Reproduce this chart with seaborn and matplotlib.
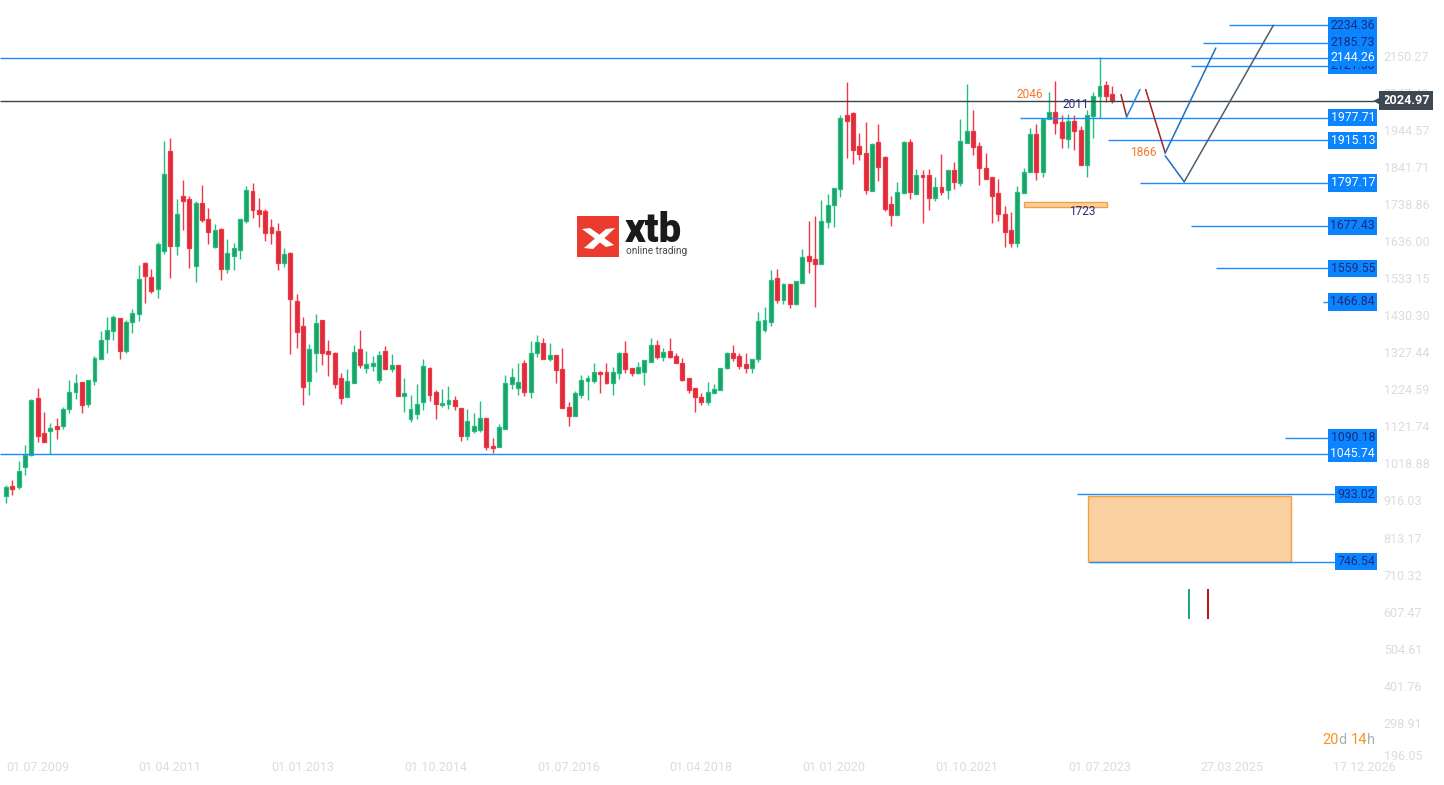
import matplotlib
matplotlib.use("Agg")
import matplotlib.pyplot as plt
import matplotlib.transforms as mtransforms
from matplotlib.patches import Rectangle, Polygon
import numpy as np
import pandas as pd
import seaborn as sns

# ---------------- data (monthly candles, Jul 2009 .. Feb 2024) ----------------
opens = [928, 956, 953, 1008, 1042, 1199, 1102, 1110, 1122, 1124, 1171, 1216, 1244, 1183, 1247, 1308,
         1363, 1385, 1421, 1332, 1410, 1432, 1574, 1535, 1502, 1609, 1885, 1623, 1762, 1751, 1567, 1741,
         1697, 1620, 1669, 1559, 1595, 1612, 1692, 1774, 1721, 1718, 1676, 1663, 1576, 1602, 1468, 1399,
         1248, 1326, 1416, 1330, 1324, 1255, 1204, 1243, 1335, 1284, 1289, 1249, 1331, 1282, 1291, 1207,
         1141, 1157, 1188, 1283, 1216, 1180, 1183, 1194, 1172, 1096, 1110, 1112, 1144, 1066, 1064, 1115,
         1238, 1229, 1297, 1216, 1324, 1352, 1308, 1319, 1280, 1174, 1149, 1210, 1247, 1247, 1272, 1272,
         1241, 1269, 1324, 1284, 1270, 1273, 1301, 1346, 1315, 1330, 1316, 1297, 1255, 1227, 1202, 1190,
         1215, 1222, 1283, 1324, 1316, 1294, 1283, 1308, 1390, 1412, 1532, 1471, 1516, 1462, 1518, 1593,
         1585, 1573, 1688, 1735, 1781, 1984, 1990, 1899, 1879, 1775, 1910, 1869, 1738, 1707, 1768, 1910,
         1767, 1819, 1819, 1754, 1785, 1776, 1832, 1798, 1907, 1942, 1899, 1838, 1812, 1768, 1712, 1665,
         1631, 1768, 1826, 1932, 1826, 1973, 1993, 1965, 1918, 1968, 1944, 1847, 1983, 2038, 2068, 2043]
highs = [959, 973, 1026, 1070, 1198, 1227, 1161, 1130, 1145, 1176, 1250, 1267, 1244, 1249, 1317, 1386,
         1425, 1431, 1421, 1418, 1447, 1569, 1577, 1557, 1632, 1913, 1921, 1752, 1805, 1762, 1748, 1791,
         1727, 1683, 1672, 1641, 1630, 1696, 1788, 1797, 1755, 1724, 1697, 1686, 1616, 1604, 1489, 1425,
         1350, 1433, 1416, 1361, 1329, 1269, 1281, 1347, 1389, 1331, 1317, 1331, 1345, 1322, 1291, 1256,
         1209, 1239, 1309, 1286, 1222, 1225, 1234, 1206, 1172, 1170, 1159, 1192, 1144, 1089, 1128, 1263,
         1283, 1297, 1305, 1358, 1375, 1367, 1353, 1319, 1339, 1188, 1220, 1263, 1263, 1296, 1275, 1296,
         1287, 1328, 1359, 1284, 1300, 1307, 1367, 1362, 1339, 1367, 1326, 1311, 1255, 1227, 1215, 1244,
         1238, 1284, 1328, 1346, 1324, 1324, 1308, 1440, 1454, 1555, 1558, 1519, 1516, 1524, 1614, 1691,
         1705, 1750, 1767, 1783, 1985, 2077, 1995, 1935, 1966, 1908, 1960, 1872, 1761, 1799, 1913, 1919,
         1835, 1833, 1835, 1814, 1877, 1832, 1854, 1974, 2071, 1999, 1910, 1880, 1812, 1807, 1734, 1716,
         1788, 1837, 1948, 1960, 1974, 2049, 2080, 1984, 1987, 1984, 1955, 1999, 2050, 2145, 2080, 2066]
lows = [908, 932, 949, 988, 1040, 1077, 1077, 1045, 1087, 1113, 1160, 1198, 1160, 1176, 1237, 1308,
        1326, 1361, 1309, 1326, 1381, 1415, 1465, 1492, 1479, 1600, 1534, 1597, 1667, 1562, 1522, 1689,
        1628, 1615, 1528, 1547, 1555, 1586, 1686, 1700, 1675, 1636, 1628, 1555, 1565, 1322, 1339, 1181,
        1209, 1273, 1292, 1261, 1229, 1184, 1204, 1243, 1284, 1271, 1276, 1243, 1282, 1273, 1207, 1162,
        1135, 1143, 1167, 1193, 1143, 1175, 1171, 1166, 1080, 1083, 1102, 1107, 1055, 1049, 1064, 1115,
        1226, 1210, 1207, 1201, 1313, 1308, 1302, 1243, 1172, 1124, 1149, 1199, 1196, 1241, 1214, 1238,
        1208, 1254, 1271, 1261, 1267, 1236, 1301, 1309, 1304, 1312, 1296, 1247, 1213, 1162, 1182, 1182,
        1215, 1222, 1280, 1303, 1280, 1269, 1269, 1299, 1384, 1400, 1463, 1462, 1449, 1457, 1518, 1548,
        1454, 1573, 1673, 1674, 1759, 1865, 1849, 1861, 1767, 1775, 1802, 1719, 1678, 1707, 1768, 1753,
        1767, 1687, 1723, 1748, 1763, 1753, 1780, 1789, 1907, 1875, 1790, 1807, 1685, 1692, 1618, 1620,
        1618, 1768, 1826, 1806, 1812, 1973, 1933, 1895, 1895, 1888, 1847, 1812, 1921, 1976, 2020, 2018]
closes = [954, 949, 997, 1042, 1194, 1095, 1079, 1118, 1113, 1169, 1216, 1241, 1180, 1249, 1310, 1360,
          1388, 1424, 1332, 1410, 1435, 1529, 1539, 1498, 1627, 1823, 1623, 1712, 1748, 1615, 1740, 1695,
          1662, 1666, 1559, 1602, 1615, 1696, 1776, 1721, 1712, 1659, 1659, 1576, 1599, 1476, 1384, 1232,
          1335, 1407, 1326, 1321, 1240, 1201, 1247, 1327, 1293, 1294, 1297, 1319, 1282, 1291, 1207, 1213,
          1169, 1185, 1288, 1210, 1183, 1186, 1194, 1179, 1094, 1137, 1122, 1145, 1064, 1061, 1119, 1241,
          1258, 1246, 1216, 1324, 1355, 1308, 1319, 1277, 1172, 1149, 1213, 1250, 1256, 1272, 1266, 1243,
          1272, 1325, 1280, 1269, 1286, 1307, 1346, 1314, 1327, 1315, 1296, 1251, 1222, 1204, 1190, 1218,
          1224, 1284, 1324, 1312, 1290, 1283, 1308, 1414, 1417, 1528, 1471, 1516, 1462, 1524, 1591, 1579,
          1571, 1691, 1736, 1783, 1976, 1970, 1889, 1878, 1777, 1905, 1842, 1725, 1707, 1771, 1910, 1771,
          1819, 1812, 1756, 1785, 1773, 1832, 1799, 1913, 1942, 1896, 1837, 1807, 1762, 1711, 1662, 1631,
          1771, 1826, 1932, 1826, 1974, 1993, 1962, 1921, 1968, 1940, 1847, 1985, 2039, 2065, 2039, 2025]

# x tick labels (one every 21 months)
xtick_idx = [0, 21, 42, 63, 84, 105, 126, 147, 168, 189, 210]
xtick_labels = ["01.07.2009", "01.04.2011", "01.01.2013", "01.10.2014", "01.07.2016", "01.04.2018",
                "01.01.2020", "01.10.2021", "01.07.2023", "27.03.2025", "17.12.2026"]
ytick_values = [196.05, 298.91, 401.76, 504.61, 607.47, 710.32, 813.17, 916.03, 1018.88, 1121.74,
                1224.59, 1327.44, 1430.30, 1533.15, 1636.00, 1738.86, 1841.71, 1944.57, 2047.42, 2150.27]

current_price = 2024.97
# horizontal levels: value, label, start (month index), white text?
level_values = [2122.0, 2234.36, 2185.73, 2144.26, 1977.71, 1915.13, 1797.17, 1677.43, 1559.55,
                1466.84, 1090.18, 1045.74, 933.02, 746.54]
level_labels = ["2121.50", "2234.36", "2185.73", "2144.26", "1977.71", "1915.13", "1797.17", "1677.43",
                "1559.55", "1466.84", "1090.18", "1045.74", "933.02", "746.54"]
level_start = [187.5, 193.5, 189.4, -1.0, 160.4, 174.3, 179.4, 187.5, 191.4, 208.4, 202.4, -1.0, 169.4, 171.3]
level_white = [False, False, False, True, True, True, True, False, False, False, False, True, False, False]

# zones
zone_big = (171.1, 203.3, 746.54, 928.0)     # x0, x1, y0, y1
zone_small = (161.1, 174.2, 1729.0, 1744.0)

# projected path segments (x in months, y in price)
proj_x = [[176.4, 177.3], [177.3, 179.4], [180.3, 183.4], [183.4, 191.4], [183.4, 186.4], [186.4, 200.5]]
proj_y = [[2042, 1980], [1980, 2056], [2056, 1880], [1880, 2171], [1872, 1800], [1800, 2234]]
proj_c = ["#a52323", "#1e88e5", "#a52323", "#1f6fc0", "#1f6fc0", "#4e5d6a"]

annot_text = ["2046", "2011", "1866", "1723"]
annot_x = [162.0, 169.3, 179.9, 170.2]
annot_y = [2041, 2015, 1880, 1719]
annot_c = ["#f07a2a", "#2b2f7f", "#f07a2a", "#2b2f7f"]

# ---------------- style ----------------
sns.set_theme(style="white")
plt.rcParams['font.family'] = ['Roboto', 'DejaVu Sans']

df = pd.DataFrame({"open": opens, "high": highs, "low": lows, "close": closes})
df["idx"] = np.arange(len(df))
df["up"] = df["close"] >= df["open"]
GREEN_F, GREEN_E = "#1f9f68", "#22c07e"
RED_F, RED_E = "#d92f3d", "#f23645"
df["face"] = np.where(df["up"], GREEN_F, RED_F)
df["edge"] = np.where(df["up"], GREEN_E, RED_E)
df["bottom"] = df[["open", "close"]].min(axis=1)
df["height"] = (df["close"] - df["open"]).abs().clip(lower=4)

W, H = 1444, 785
fig = plt.figure(figsize=(W / 100, H / 100), dpi=100)
fig.patch.set_facecolor("white")
ax = fig.add_axes([0, 0, 1, 1])
ax.set_facecolor("white")
ax.set_xlim(-0.95, 227.5)
ax.set_ylim(126.8, 2304.3)
for s in ax.spines.values():
    s.set_visible(False)
ax.grid(False)

# candles
ax.vlines(df["idx"], df["low"], df["high"], colors=df["edge"], lw=1.0, zorder=3)
ax.bar(df["idx"], df["height"], bottom=df["bottom"], width=0.62, color=df["face"],
       edgecolor=df["edge"], linewidth=0.9, zorder=4)

blend = mtransforms.blended_transform_factory(ax.transAxes, ax.transData)
LINE_C = "#1a8cff"
BOX_C = "#0a84ff"
for v, lab, x0, wt in zip(level_values, level_labels, level_start, level_white):
    ax.hlines(v, x0, 212, colors=LINE_C, lw=1.0, zorder=5)
    ax.text(1375 / W, v, lab, transform=blend, ha="right", va="center", fontsize=8.8,
            color="white" if wt else "#1e2a78", zorder=7,
            bbox=dict(boxstyle="square,pad=0.18", fc=BOX_C, ec="none"))

# current price line + tag
ax.hlines(current_price, -1, 216.5, colors="#37444e", lw=1.0, zorder=5)
ax.text(1406 / W, current_price, f"{current_price:.2f}", transform=blend, ha="center", va="center",
        fontsize=9.2, fontweight="bold", color="white", zorder=9,
        bbox=dict(boxstyle="square,pad=0.22", fc="#3d4852", ec="none"))
ax.plot([1379 / W], [current_price], marker="<", ms=9, color="#3d4852", transform=blend, zorder=9,
        markeredgewidth=0)

# zones
x0, x1, y0, y1 = zone_big
ax.add_patch(Rectangle((x0, y0), x1 - x0, y1 - y0, fc="#f9d0a0", ec="#f5a03c", lw=1.0, zorder=4))
x0, x1, y0, y1 = zone_small
ax.add_patch(Rectangle((x0, y0), x1 - x0, y1 - y0, fc="#fccf9c", ec="#f5a142", lw=1.0, zorder=4))

# projection path
for xs, ys, c in zip(proj_x, proj_y, proj_c):
    ax.plot(xs, ys, color=c, lw=1.1, zorder=6)

for t, x, y, c in zip(annot_text, annot_x, annot_y, annot_c):
    ax.text(x, y, t, ha="center", va="center", fontsize=8.6, color=c, zorder=8)

# small timeline markers
ax.vlines([187.2], 586, 670, colors="#0aa06e", lw=1.3, zorder=5)
ax.vlines([190.2], 586, 670, colors="#b20000", lw=1.3, zorder=5)

# axes ticks (inside)
ax.set_yticks(ytick_values)
ax.set_yticklabels([f"{v:.2f}" for v in ytick_values])
ax.yaxis.tick_right()
ax.tick_params(axis="y", which="both", length=0, pad=-43.5, labelsize=9, labelcolor="#dcdcdc")
ax.set_xticks(xtick_idx)
ax.set_xticklabels(xtick_labels, ha="left")
ax.tick_params(axis="x", which="both", length=0, pad=-17.5, labelsize=9, labelcolor="#dcdcdc")
for lbl in ax.get_yticklabels():
    lbl.set_zorder(1)
# lowest price label is kept clear of the bottom edge, as in the reference
t0 = ax.yaxis.get_major_ticks()[0]
t0.label2.set_transform(t0.label2.get_transform() +
                        mtransforms.ScaledTranslation(0, 5 / 100, fig.dpi_scale_trans))

# ---------------- overlay (logo, timer) in pixel coords ----------------
ov = fig.add_axes([0, 0, 1, 1], facecolor="none")
ov.set_xlim(0, W)
ov.set_ylim(H, 0)
ov.axis("off")
ov.add_patch(Rectangle((577, 216), 42, 41, fc="#ea3b2e", ec="none"))
ov.add_patch(Polygon([(582, 229), (590, 228), (614, 245), (606, 247)], closed=True, fc="white", ec="none"))
ov.add_patch(Polygon([(584, 248), (606, 229), (615, 228), (593, 249)], closed=True, fc="white", ec="none"))
ov.text(625, 242, "xtb", fontsize=29, fontweight="heavy", color="#1a1a1a", ha="left", va="baseline",
        family=["Roboto", "DejaVu Sans"])
ov.text(626, 251.5, "online trading", fontsize=7.2, color="#4a4a4a", ha="left", va="center")

for t, x, c in [("20", 1322, "#f7931e"), ("d", 1338, "#a8b0b8"), ("14", 1351, "#f7931e"), ("h", 1367, "#a8b0b8")]:
    ov.text(x, 740, t, fontsize=10.5, color=c, ha="left", va="center")

fig.savefig("out.png", dpi=100, facecolor="white")
